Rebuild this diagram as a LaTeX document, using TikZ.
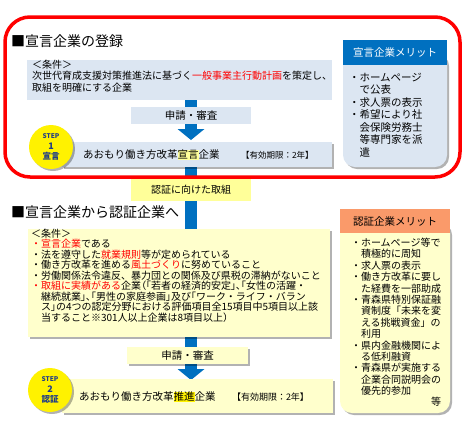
\documentclass[tikz,border=0pt]{standalone}
\usepackage{fontspec}
\setmainfont{Noto Sans CJK JP}
\usetikzlibrary{shadows,arrows.meta,backgrounds}
\definecolor{lblue}{HTML}{DCE6F2}
\definecolor{pyel}{HTML}{FFFFCC}
\definecolor{yel}{HTML}{FFFF99}
\definecolor{mblue}{HTML}{0070C0}
\definecolor{navy}{HTML}{1F3C88}
\definecolor{orng}{HTML}{FA9A6A}
\definecolor{hlpale}{HTML}{FFFF9A}
\newcommand{\rd}[1]{\textcolor{red}{#1}}
\newcommand{\hlt}[2]{{\setlength{\fboxsep}{0pt}\colorbox{#1}{#2}}}
\newcommand{\pp}[1]{{\addfontfeature{RawFeature=+palt}#1}}
\begin{document}
\begin{tikzpicture}[x=1pt,y=-1pt,
  every node/.style={inner sep=0pt, outer sep=0pt},
  shad/.style={drop shadow={shadow xshift=2pt, shadow yshift=-2pt, opacity=0.3, fill=black}},
  txt/.style={align=left, anchor=north west},
  title/.style={anchor=west, font=\fontsize{14}{16}\selectfont},
  stepc/.style={circle, fill=yellow, minimum size=44pt, shad, text=navy, font=\bfseries\fontsize{8}{10.5}\selectfont, align=center},
  shaft/.style={draw=mblue, line width=12pt},
  tip/.style={-{Triangle[width=27pt,length=11pt,line width=0pt]}},
  frame/.style={draw=red, line width=3.5pt, rounded corners=25pt},
  fmid/.style={font=\fontsize{10.5}{12}\selectfont},
]
\useasboundingbox (0,0) rectangle (473,437);

% ---- section 1
\node[frame, minimum width=455pt, minimum height=160pt] (frame1) at (232.5,97) {};
\node[title] (t1) at (11,41) {■宣言企業の登録};
\node[fill=lblue, minimum width=305pt, minimum height=40pt] (cond1) at (179.5,80) {};
\node[txt, font=\fontsize{10}{11.5}\selectfont] (c1t) at (32,60)
  {＜条件＞\\次世代育成支援対策推進法に基づく\rd{一般事業主行動計画}を策定し、\\取組を明確にする企業};
\node[fill=lblue, minimum width=120pt, minimum height=17pt, fmid] (sh1) at (191,115.5) {申請・審査};
\node[fill=lblue, shad, minimum width=270pt, minimum height=25pt] (step1) at (197,154.5) {};
\node[anchor=west, fmid] (s1t) at (83,155) {あおもり働き方改革\hlt{hlpale}{宣言}企業};
\node[anchor=west, font=\fontsize{8.5}{10}\selectfont] (s1v) at (241,155) {【有効期限：2年】};
\node[stepc] (c1) at (51,147) {{\fontsize{6.5}{7}\selectfont STEP}\\{\fontsize{9}{9}\selectfont 1}\\{\fontsize{8.5}{9}\selectfont 宣言}};

\node[fill=lblue, shad, rounded corners=12pt, minimum width=104pt, minimum height=115pt, anchor=north] (mb1) at (395,52) {};
\node[fill=mblue, minimum width=104pt, minimum height=25pt, anchor=north, text=white, fmid] (mh1) at (395,40) {宣言企業メリット};
\node[txt, font=\fontsize{10.5}{12.5}\selectfont] (m1t) at (349,73)
  {・ホームページ\\　で公表\\・求人票の表示\\・希望により社\\　会保険労務士\\　等専門家を派\\　遣};

% ---- section 2
\node[fill=yel, minimum width=120pt, minimum height=22pt, font=\fontsize{10}{12}\selectfont] (prep) at (191,190) {認証に向けた取組};
\node[title] (t2) at (11,212) {■宣言企業から認証企業へ};
\node[fill=pyel, shad, minimum width=302pt, minimum height=108pt] (cond2) at (179,283) {};
\node[txt, font=\fontsize{10}{10.5}\selectfont] (c2t) at (31,229)
  {＜条件＞\\
   \rd{・宣言企業}である\\
   ・法を遵守した\rd{就業規則}等が定められている\\
   ・働き方改革を進める\rd{風土づくり}に努めていること\\
   ・労働関係法令違反、暴力団との関係及び県税の滞納がないこと\\
   \rd{・取組に実績がある}企業\pp{（「}若者の経済的安定\pp{」、「}女性の活躍・\\
   　継続就業\pp{」、「}男性の家庭参画\pp{」}及び\pp{「}ワーク・ライフ・バラン\\
   　ス\pp{」}の4つの認定分野における評価項目全15項目中5項目以上該\\
   　当すること※301人以上企業は8項目以上）};
\node[fill=pyel, shad, minimum width=121pt, minimum height=17pt, fmid] (sh2) at (187.5,355.5) {申請・審査};
\node[fill=pyel, shad, minimum width=271pt, minimum height=34pt] (step2) at (197.5,396) {};
\node[anchor=west, fmid] (s2t) at (79,397) {あおもり働き方改革\hlt{yellow}{推進}企業};
\node[anchor=west, font=\fontsize{9}{10}\selectfont] (s2v) at (232,397) {【有効期限：2年】};
\node[stepc] (c2) at (50,390) {{\fontsize{6.5}{7}\selectfont STEP}\\{\fontsize{9}{9}\selectfont 2}\\{\fontsize{8.5}{9}\selectfont 認証}};

\node[fill=pyel, shad, rounded corners=12pt, minimum width=110pt, minimum height=192pt, anchor=north] (mb2) at (395,221) {};
\node[fill=orng, minimum width=110pt, minimum height=24pt, anchor=north, fmid] (mh2) at (395,209) {認証企業メリット};
\node[txt, font=\fontsize{10}{11.4}\selectfont] (m2t) at (351,238)
  {・ホームページ等で\\　積極的に周知\\・求人票の表示\\・働き方改革に要し\\　た経費を一部助成\\・青森県特別保証融\\　資制度「未来を変\\　える挑戦資金」の\\　利用\\・県内金融機関によ\\　る低利融資\\・青森県が実施する\\　企業合同説明会の\\　優先的参加};
\node[anchor=east, font=\fontsize{10}{12}\selectfont] (m2e) at (441,402) {等};

% ---- arrows
\begin{pgfonlayer}{background}
\draw[shaft, tip] (cond1.south -| sh1.center) -- ([yshift=2pt]step1.north -| sh1.center);
\draw[shaft] (step1.south -| prep.center) -- (cond2.north -| prep.center);
\draw[shaft, tip] (cond2.south -| prep.center) -- ([yshift=-1pt]step2.north -| prep.center);
\end{pgfonlayer}
\end{tikzpicture}
\end{document}
